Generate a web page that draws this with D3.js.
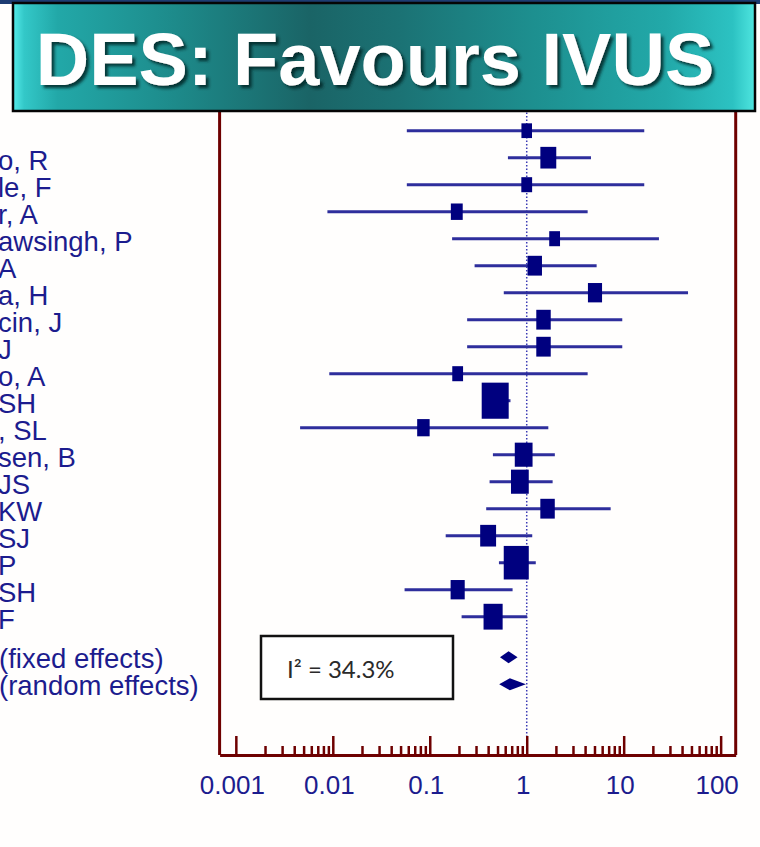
<!DOCTYPE html>
<html>
<head>
<meta charset="utf-8">
<script src="https://cdn.jsdelivr.net/npm/d3@7"></script>
<style>
  body { margin: 0; background: #fffefd; }
  svg { display: block; }
</style>
</head>
<body>
<script>
// study labels (cut off at left edge in the source slide)
const studies = ["", "o, R", "le, F", "r, A", "awsingh, P", "A", "a, H", "cin, J", "J", "o, A",
  "SH", ", SL", "sen, B", "JS", "KW", "SJ", "P", "SH", "F"];
const oddsRatio = [1.0, 1.67, 1.0, 0.19, 1.94, 1.21, 5.06, 1.49, 1.49, 0.194,
  0.473, 0.086, 0.93, 0.85, 1.64, 0.40, 0.78, 0.194, 0.45];
const ciLow = [0.058, 0.64, 0.058, 0.0088, 0.17, 0.29, 0.58, 0.243, 0.243, 0.0092,
  0.36, 0.0046, 0.448, 0.414, 0.382, 0.146, 0.517, 0.055, 0.213];
const ciHigh = [16.3, 4.6, 16.3, 4.25, 23.1, 5.26, 46.1, 9.67, 9.67, 4.25,
  0.68, 1.67, 1.95, 1.85, 7.34, 1.14, 1.24, 0.715, 1.01];
const weights = [2.3, 5.2, 2.4, 2.9, 2.4, 4.3, 4.1, 4.3, 4.3, 2.4,
  15.0, 3.2, 6.5, 6.5, 4.3, 5.2, 12.9, 4.1, 7.5];

const pooledLabels = ["(fixed effects)", "(random effects)"];
const pooledOR = [0.65, 0.67];
const pooledLow = [0.53, 0.52];
const pooledHigh = [0.805, 0.98];

const majorTicks = [0.001, 0.01, 0.1, 1, 10, 100];
const tickLabels = ["0.001", "0.01", "0.1", "1", "10", "100"];
const heterogeneity = "I\u00b2 = 34.3%";
const title = "DES: Favours IVUS";

const w = 760;
const h = 847;
const axisY = 755;

const svg = d3.select("body").append("svg")
  .attr("width", w)
  .attr("height", h);

const x = d3.scaleLog()
  .domain([0.00068, 143])
  .range([219.6, 735.7]);

const y = d3.scaleLinear()
  .domain([0, 20.5])
  .range([130.7, 684.2]);

const size = d3.scaleSqrt()
  .domain([0, 15])
  .range([0, 27]);

const navy = "#00007f";
const lineBlue = "#2e2e9c";
const frame = "#6e0000";

// frame sides
svg.append("line")
  .attr("x1", x.range()[0]).attr("x2", x.range()[0])
  .attr("y1", 95).attr("y2", axisY)
  .attr("stroke", frame).attr("stroke-width", 3);
svg.append("line")
  .attr("x1", x.range()[1]).attr("x2", x.range()[1])
  .attr("y1", 95).attr("y2", axisY)
  .attr("stroke", frame).attr("stroke-width", 3);

// line of no effect
svg.append("line")
  .attr("x1", x(1)).attr("x2", x(1))
  .attr("y1", 95).attr("y2", axisY)
  .attr("stroke", "#3a3ab4")
  .attr("stroke-width", 1.5)
  .attr("stroke-dasharray", "1.5,2");

// axis with minor ticks
let allTicks = [];
majorTicks.forEach((m, i) => {
  if (i < majorTicks.length - 1) {
    for (let k = 1; k < 10; k++) allTicks.push(m * k);
  } else {
    allTicks.push(m);
  }
});
const isMajor = (v) => majorTicks.some((m) => Math.abs(v / m - 1) < 1e-6);

const xAxis = d3.axisBottom(x)
  .tickValues(allTicks)
  .tickSize(-19)
  .tickSizeOuter(0)
  .tickPadding(21)
  .tickFormat((d) => {
    const i = majorTicks.findIndex((m) => Math.abs(d / m - 1) < 1e-6);
    return i >= 0 ? tickLabels[i] : "";
  });

const gAxis = svg.append("g")
  .attr("transform", "translate(0," + axisY + ")")
  .call(xAxis);

gAxis.select(".domain")
  .attr("stroke", frame)
  .attr("stroke-width", 3);
gAxis.selectAll(".tick line")
  .attr("stroke", frame)
  .attr("stroke-width", 2.5)
  .attr("y2", (d) => isMajor(d) ? -19 : -9);
gAxis.selectAll(".tick text")
  .attr("fill", "#1c1c8e")
  .attr("font-family", "Liberation Sans, Arial, sans-serif")
  .attr("font-size", 26)
  .attr("dx", -4);

// confidence intervals
svg.selectAll("line.ci")
  .data(studies)
  .enter()
  .append("line")
  .attr("class", "ci")
  .attr("x1", (d, i) => x(ciLow[i]))
  .attr("x2", (d, i) => x(ciHigh[i]))
  .attr("y1", (d, i) => y(i))
  .attr("y2", (d, i) => y(i))
  .attr("stroke", lineBlue)
  .attr("stroke-width", 3);

// weight boxes
svg.selectAll("rect.box")
  .data(studies)
  .enter()
  .append("rect")
  .attr("class", "box")
  .attr("x", (d, i) => x(oddsRatio[i]) - size(weights[i]) / 2)
  .attr("y", (d, i) => y(i) - (size(weights[i]) * 1.3 + 1) / 2)
  .attr("width", (d, i) => size(weights[i]))
  .attr("height", (d, i) => size(weights[i]) * 1.3 + 1)
  .attr("fill", navy);

// study labels
svg.selectAll("text.study")
  .data(studies)
  .enter()
  .append("text")
  .attr("class", "study")
  .text((d) => d)
  .attr("x", -2)
  .attr("y", (d, i) => y(i) + 12)
  .attr("fill", "#1c1c8e")
  .attr("font-family", "Liberation Sans, Arial, sans-serif")
  .attr("font-size", 27.5);

// pooled estimates
svg.selectAll("path.diamond")
  .data(pooledLabels)
  .enter()
  .append("path")
  .attr("class", "diamond")
  .attr("d", (d, i) => {
    const yy = y(19.5 + i);
    return "M" + x(pooledLow[i]) + "," + yy +
      "L" + x(pooledOR[i]) + "," + (yy - 6) +
      "L" + x(pooledHigh[i]) + "," + yy +
      "L" + x(pooledOR[i]) + "," + (yy + 6) + "Z";
  })
  .attr("fill", navy);

svg.selectAll("text.pooled")
  .data(pooledLabels)
  .enter()
  .append("text")
  .attr("class", "pooled")
  .text((d) => d)
  .attr("x", -1)
  .attr("y", (d, i) => y(19.5 + i) + 11)
  .attr("fill", "#1c1c8e")
  .attr("font-family", "Liberation Sans, Arial, sans-serif")
  .attr("font-size", 27.5);

// heterogeneity box
svg.append("rect")
  .attr("x", 261).attr("y", 636)
  .attr("width", 192).attr("height", 63)
  .attr("fill", "#ffffff")
  .attr("stroke", "#111")
  .attr("stroke-width", 2.5);
svg.append("text")
  .text(heterogeneity)
  .attr("x", 287).attr("y", 678)
  .attr("fill", "#2a2a2a")
  .attr("font-family", "Lato, Open Sans, sans-serif")
  .attr("font-size", 24);

// title banner
const defs = svg.append("defs");
const grad = defs.append("linearGradient")
  .attr("id", "banner")
  .attr("x1", "0%").attr("x2", "100%");
[["0%", "#55ecea"], ["1.5%", "#33c8c8"], ["6%", "#22a8a8"], ["22%", "#1d8a8a"],
 ["40%", "#1a6466"], ["52%", "#1b7274"], ["70%", "#1d8f8f"], ["88%", "#22a9a9"],
 ["97%", "#2cc2c2"], ["100%", "#4fe6e0"]].forEach((s) => {
  grad.append("stop").attr("offset", s[0]).attr("stop-color", s[1]);
});
const shadow = defs.append("filter")
  .attr("id", "shadow")
  .attr("x", "-5%").attr("y", "-20%")
  .attr("width", "110%").attr("height", "140%");
shadow.append("feDropShadow")
  .attr("dx", 3).attr("dy", 3)
  .attr("stdDeviation", 1.5)
  .attr("flood-color", "#062626")
  .attr("flood-opacity", 0.85);

svg.append("rect")
  .attr("x", 0).attr("y", 0)
  .attr("width", w).attr("height", 4)
  .attr("fill", "#1d3c72");
svg.append("rect")
  .attr("x", 13).attr("y", 3)
  .attr("width", 742).attr("height", 108)
  .attr("fill", "url(#banner)")
  .attr("stroke", "#050505")
  .attr("stroke-width", 2.5);
svg.append("text")
  .text(title)
  .attr("x", 375).attr("y", 85)
  .attr("text-anchor", "middle")
  .attr("fill", "#ffffff")
  .attr("font-family", "Liberation Sans, Arial, sans-serif")
  .attr("font-weight", "bold")
  .attr("font-size", 74)
  .attr("filter", "url(#shadow)");
</script>
</body>
</html>
